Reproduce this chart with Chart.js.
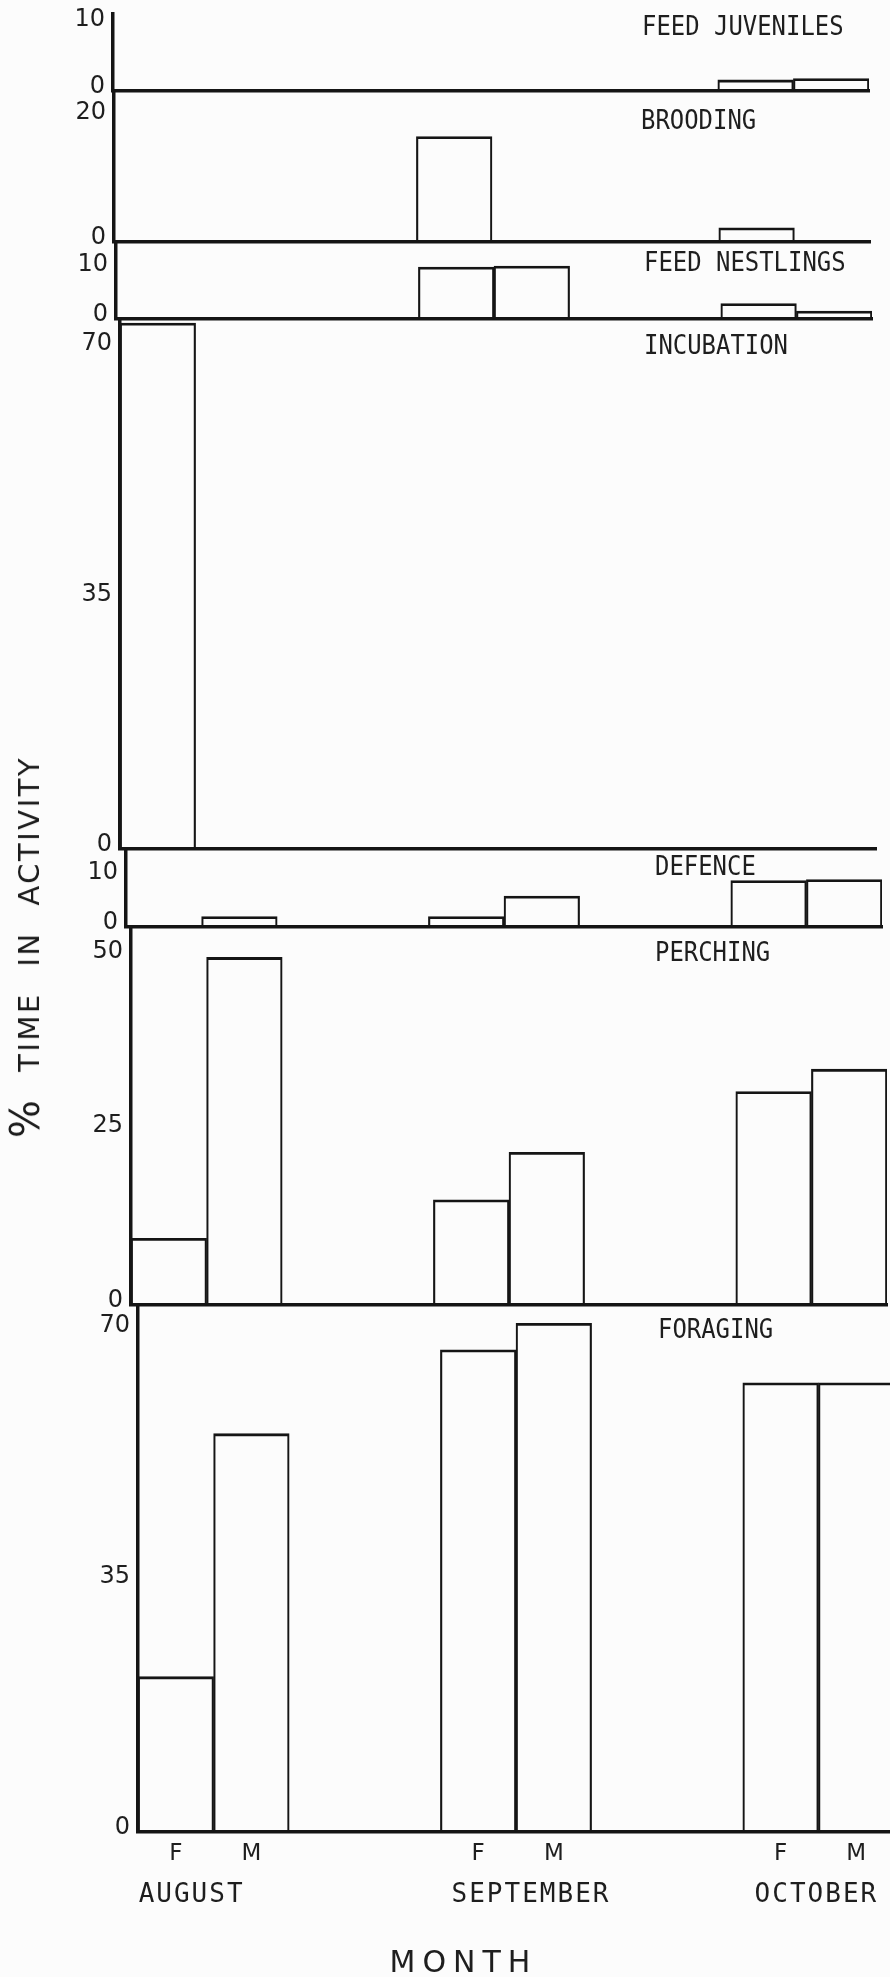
<!DOCTYPE html>
<html>
<head>
<meta charset="utf-8">
<title>% time in activity by month</title>
<script src="https://cdn.jsdelivr.net/npm/chart.js@4.4.1/dist/chart.umd.min.js"></script>
<style>
  html, body { margin: 0; padding: 0; }
  body { width: 890px; height: 1977px; overflow: hidden; position: relative; background: #fcfcfc; }
  #stage { position: absolute; left: 0; top: 0; width: 920px; height: 1977px; }
  #stage canvas { position: absolute; left: 0; }
  #ytitle {
    position: absolute; left: 27px; top: 947px;
    transform: translate(-50%, -50%) rotate(-90deg);
    font-family: "DejaVu Sans", sans-serif; font-size: 29px; line-height: 30px;
    letter-spacing: 2.5px; word-spacing: 14px; color: #1c1c1c; white-space: nowrap;
  }
  #ytitle .pct { font-size: 40px; }
</style>
</head>
<body>
<div id="stage"></div>
<div id="ytitle"><span class="pct">%</span> TIME IN ACTIVITY</div>
<script>
// Share of observed time spent in each activity, by month and sex
const months = ['AUGUST', 'SEPTEMBER', 'OCTOBER'];
const sexes = ['F', 'M'];
const activities = ['FEED JUVENILES', 'BROODING', 'FEED NESTLINGS', 'INCUBATION', 'DEFENCE', 'PERCHING', 'FORAGING'];

// % time, ordered Aug F, Aug M, Sep F, Sep M, Oct F, Oct M
const feedJuveniles = [0, 0, 0, 0, 1.6, 1.8];
const brooding      = [0, 0, 16.8, 0, 2.2, 0];
const feedNestlings = [0, 0, 10.3, 10.5, 3.0, 1.5];
const incubation    = [73.5, 0, 0, 0, 0, 0];
const defence       = [0, 2.0, 2.0, 6.1, 9.2, 9.4];
const perching      = [9.5, 49.7, 15.0, 21.8, 30.5, 33.7];
const foraging      = [21.6, 55.5, 67.2, 70.9, 62.6, 62.6];

// labelled y ticks of each panel
const feedJuvenilesTicks = [0, 10];
const broodingTicks      = [0, 20];
const feedNestlingsTicks = [0, 10];
const incubationTicks    = [0, 35, 70];
const defenceTicks       = [0, 10];
const perchingTicks      = [0, 25, 50];
const foragingTicks      = [0, 35, 70];

// ---- layout ----
const GAP = 2;              // empty slots between months
const PLOT_W = 756;         // width of each panel's plot area
const CANVAS_W = 920;
const INK = '#151515';
const TEXT = '#1e1e1e';
const MONO = '"DejaVu Sans Mono", monospace';

const slotsPerMonth = sexes.length + GAP;
const slotLabels = [];
months.forEach((m, mi) => {
  sexes.forEach(s => slotLabels.push(s));
  if (mi < months.length - 1) for (let g = 0; g < GAP; g++) slotLabels.push('');
});
function toSlots(values) {
  const out = [];
  let k = 0;
  months.forEach((m, mi) => {
    sexes.forEach(() => { const v = values[k++]; out.push(v > 0 ? v : null); });
    if (mi < months.length - 1) for (let g = 0; g < GAP; g++) out.push(null);
  });
  return out;
}

const panels = [
  { name: activities[0], values: feedJuveniles, ticks: feedJuvenilesTicks, top: 13,   base: 90,   max: 11.5, left: 113, tx: 642, ty: 25 },
  { name: activities[1], values: brooding,      ticks: broodingTicks,      top: 91,   base: 241,  max: 24,   left: 114, tx: 641, ty: 119 },
  { name: activities[2], values: feedNestlings, ticks: feedNestlingsTicks, top: 242,  base: 318,  max: 15.2, left: 116, tx: 644, ty: 261 },
  { name: activities[3], values: incubation,    ticks: incubationTicks,    top: 319,  base: 848,  max: 74,   left: 120, tx: 644, ty: 344 },
  { name: activities[4], values: defence,       ticks: defenceTicks,       top: 849,  base: 926,  max: 15.4, left: 126, tx: 655, ty: 865 },
  { name: activities[5], values: perching,      ticks: perchingTicks,      top: 927,  base: 1304, max: 54,   left: 131, tx: 655, ty: 951 },
  { name: activities[6], values: foraging,      ticks: foragingTicks,      top: 1305, base: 1831, max: 73.4, left: 138, tx: 658, ty: 1328, xLabels: true }
];

// panel name, plus month names and axis title under the bottom panel
const panelText = {
  id: 'panelText',
  afterDraw(chart, args, o) {
    const ctx = chart.ctx;
    const b = chart.chartArea.bottom;
    ctx.save();
    ctx.fillStyle = TEXT;
    ctx.textBaseline = 'alphabetic';
    ctx.textAlign = 'left';
    ctx.font = '26px ' + MONO;
    ctx.save();
    ctx.translate(o.x, o.y - o.base + b + 9.5);
    ctx.scale(0.92, 1);
    ctx.fillText(o.text, 0, 0);
    ctx.restore();
    if (o.months) {
      const x = chart.scales.x;
      ctx.textAlign = 'center';
      ctx.font = '26px ' + MONO;
      ctx.letterSpacing = '2px';
      const shift = [-23, 14, -3];
      months.forEach((m, i) => {
        const c = (x.getPixelForValue(i * slotsPerMonth) + x.getPixelForValue(i * slotsPerMonth + 1)) / 2 + shift[i];
        ctx.fillText(m, c + 1, b + 61 + 9.5);
      });
      ctx.font = '30px "DejaVu Sans", sans-serif';
      ctx.letterSpacing = '7px';
      ctx.fillText('MONTH', 460 + 3.5, b + 130 + 11);
    }
    ctx.restore();
  }
};

function config(p, padTop, padBottom) {
  return {
    type: 'bar',
    data: {
      labels: slotLabels,
      datasets: [{
        data: toSlots(p.values),
        backgroundColor: 'rgba(0,0,0,0)',
        borderColor: INK,
        borderWidth: { top: 2.2, left: 1.5, right: 1.5, bottom: 0 },
        borderSkipped: 'start',
        barPercentage: 1,
        categoryPercentage: 1
      }]
    },
    options: {
      responsive: false,
      maintainAspectRatio: false,
      animation: false,
      devicePixelRatio: 1,
      events: [],
      layout: { padding: { left: 0, right: CANVAS_W - p.left - PLOT_W, top: padTop, bottom: padBottom } },
      plugins: {
        legend: { display: false },
        tooltip: { enabled: false },
        panelText: { text: p.name, x: p.tx, y: p.ty, base: p.base, months: !!p.xLabels }
      },
      scales: {
        x: {
          grid: { display: false, drawTicks: false },
          border: { display: true, color: INK, width: 3.5 },
          ticks: {
            display: !!p.xLabels, autoSkip: false, maxRotation: 0, padding: 9,
            color: TEXT, font: { family: '"DejaVu Sans", sans-serif', size: 23 }
          }
        },
        y: {
          min: 0, max: p.max,
          afterBuildTicks: s => { s.ticks = p.ticks.map(v => ({ value: v })); },
          afterFit: s => { s.width = p.left; },
          grid: { display: false, drawTicks: false },
          border: { display: true, color: INK, width: 3.5 },
          ticks: {
            padding: 8, labelOffset: -4, color: TEXT,
            font: { family: '"DejaVu Sans", sans-serif', size: 24 },
            callback: v => String(v)
          }
        }
      }
    },
    plugins: [panelText]
  };
}

const stage = document.getElementById('stage');
panels.forEach(p => {
  const canvas = document.createElement('canvas');
  stage.appendChild(canvas);
  const padTop = 20, padBottom = p.xLabels ? 165 : 16;
  const want = p.base - p.top;
  let h = want + padTop + padBottom;
  canvas.width = CANVAS_W; canvas.height = h;
  let chart = new Chart(canvas, config(p, padTop, padBottom));
  let ca = chart.chartArea;
  const diff = want - (ca.bottom - ca.top);
  if (Math.abs(diff) > 0.01) {
    chart.destroy();
    canvas.width = CANVAS_W; canvas.height = Math.round(h + diff);
    chart = new Chart(canvas, config(p, padTop, padBottom));
    ca = chart.chartArea;
  }
  canvas.style.top = (p.top - ca.top) + 'px';
});
</script>
</body>
</html>
